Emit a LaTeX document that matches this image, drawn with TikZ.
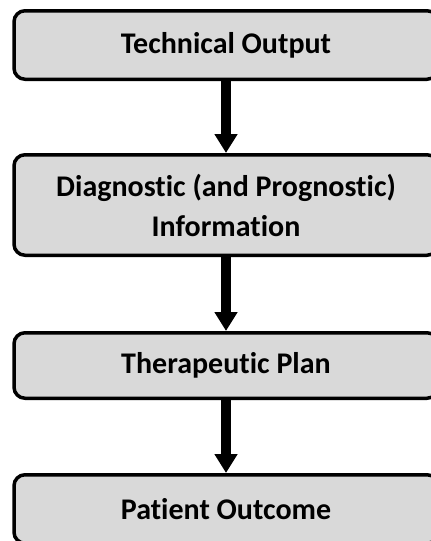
\documentclass[tikz,border=0pt]{standalone}
\usepackage{fontspec}
\setmainfont[Ligatures=NoCommon]{Carlito}
\usetikzlibrary{arrows.meta}
\definecolor{boxgray}{HTML}{D9D9D9}
\begin{document}
\begin{tikzpicture}[x=1pt,y=-1pt,
  stagebox/.style={draw=black, fill=boxgray, line width=3.5pt, rounded corners=11pt,
    minimum width=424pt, inner sep=0pt, align=center,
    font=\bfseries\fontsize{30}{40}\selectfont},
  flow/.style={line width=10.5pt, -{Triangle[width=22pt,length=19pt]}}]
\useasboundingbox (0,0) rectangle (431,541);
\clip (0,0) rectangle (431,541);
\node[stagebox, minimum height=68.5pt] (tech) at (226,45) {Technical Output};
\node[stagebox, minimum height=100.5pt] (diag) at (226,205) {Diagnostic (and Prognostic)\\Information};
\node[stagebox, minimum height=65.5pt] (ther) at (226,365.5) {Therapeutic Plan};
\node[stagebox, minimum height=68.5pt] (pat) at (226,509) {Patient Outcome};
\draw[flow] (tech.south) -- (diag.north);
\draw[flow] (diag.south) -- (ther.north);
\draw[flow] (ther.south) -- (pat.north);
\end{tikzpicture}
\end{document}
